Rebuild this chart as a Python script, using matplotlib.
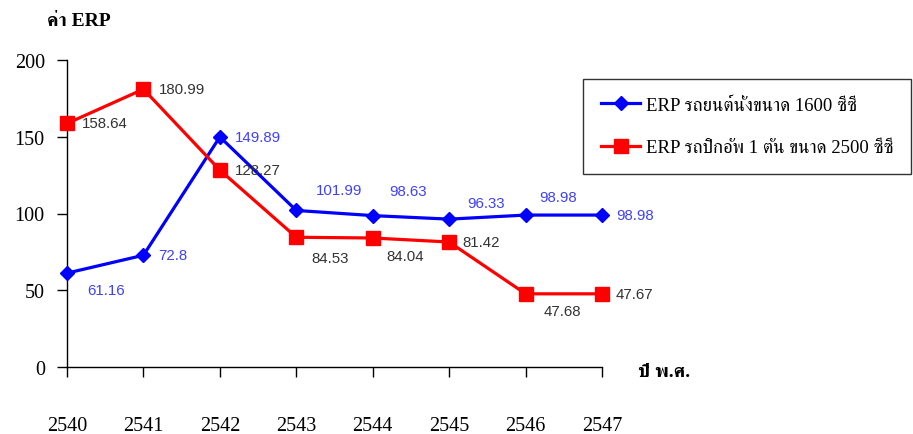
import matplotlib
matplotlib.use("Agg")
import matplotlib.pyplot as plt
from matplotlib import font_manager
from matplotlib.ft2font import FT2Font

# ---- data ----
years = [2540, 2541, 2542, 2543, 2544, 2545, 2546, 2547]
erp_sedan = [61.16, 72.8, 149.89, 101.99, 98.63, 96.33, 98.98, 98.98]
erp_pickup = [158.64, 180.99, 128.27, 84.53, 84.04, 81.42, 47.68, 47.67]
sedan_name = "ERP รถยนต์นั่งขนาด 1600 ซีซี"
pickup_name = "ERP รถปิกอัพ 1 ตัน ขนาด 2500 ซีซี"
y_title = "ค่า ERP"
x_title = "ปี พ.ศ."
y_ticks = [0, 50, 100, 150, 200]

# label offsets (pixels) for each data label
sedan_offsets = [(20, -17), (15, 0), (15, 0), (20, 20), (17, 25), (18, 16), (14, 18), (14, 0)]
pickup_offsets = [(15, 0), (15, 0), (15, 0), (15, -21), (14, -18), (13, 0), (18, -17), (14, 0)]


def thai_family():
    """Find an installed font family that has Thai glyphs, preferring serif faces."""
    found = []
    for path in font_manager.findSystemFonts():
        try:
            cmap = FT2Font(path).get_charmap()
        except Exception:
            continue
        if 0x0E23 in cmap and 0x0E35 in cmap:
            name = font_manager.FontProperties(fname=path).get_name()
            found.append(name)
    for pref in ("Serif", "Sans"):
        for n in found:
            if pref in n:
                return n
    return found[0] if found else "DejaVu Sans"


THAI = thai_family()
SERIF = ["Liberation Serif", THAI, "DejaVu Sans"]
SANS = ["Liberation Sans", "DejaVu Sans"]

fig = plt.figure(figsize=(9.13, 4.35), dpi=100)
ax = fig.add_axes([67 / 913, 67 / 435, 535 / 913, 307 / 435])

ax.plot(years, erp_sedan, color="#0000ff", lw=2.3, marker="D", ms=7.5,
        clip_on=False, zorder=3, label=sedan_name)
ax.plot(years, erp_pickup, color="#ff0000", lw=2.3, marker="s", ms=10,
        clip_on=False, zorder=3, label=pickup_name)

for x, v, (dx, dy) in zip(years, erp_sedan, sedan_offsets):
    ax.annotate(f"{v:g}", (x, v), xytext=(dx, dy), textcoords="offset pixels",
                ha="left", va="center", color="#4040ff", fontsize=10.8,
                family=SANS, zorder=4)
for x, v, (dx, dy) in zip(years, erp_pickup, pickup_offsets):
    ax.annotate(f"{v:g}", (x, v), xytext=(dx, dy), textcoords="offset pixels",
                ha="left", va="center", color="#333333", fontsize=10.8,
                family=SANS, zorder=4)

ax.set_xlim(2540, 2547)
ax.set_ylim(0, 200)
ax.set_xticks(years)
ax.set_yticks(y_ticks)
ax.set_xticklabels([str(y) for y in years], family=SERIF, fontsize=14.5)
ax.set_yticklabels([str(y) for y in y_ticks], family=SERIF, fontsize=14.5)
ax.tick_params(axis="x", direction="out", length=7, width=1, pad=28)
ax.tick_params(axis="y", direction="out", length=7, width=1, pad=9)
for s in ("top", "right"):
    ax.spines[s].set_visible(False)
for s in ("left", "bottom"):
    ax.spines[s].set_linewidth(1)
    ax.spines[s].set_color("black")

fig.text(47 / 913, 1 - 21 / 435, y_title, family=SERIF, fontsize=14,
         fontweight="bold", ha="left", va="center")
fig.text(638 / 913, 1 - 373 / 435, x_title, family=SERIF, fontsize=14,
         fontweight="bold", ha="left", va="center")

leg = fig.legend(loc="upper left", bbox_to_anchor=(583 / 913, 1 - 80 / 435),
                 frameon=True, fancybox=False, edgecolor="black",
                 prop={"family": SERIF, "size": 13.5}, handlelength=2.1,
                 handletextpad=0.3, labelspacing=1.35, borderpad=0.95,
                 borderaxespad=0)
leg.get_frame().set_linewidth(1)

fig.savefig("out.png", dpi=100)
